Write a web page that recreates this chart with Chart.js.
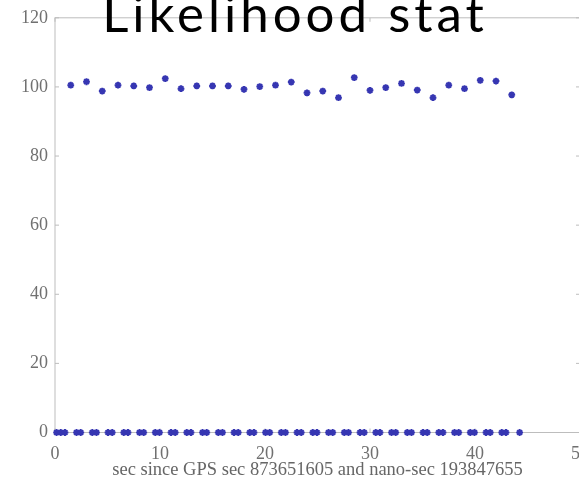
<!DOCTYPE html>
<html>
<head>
<meta charset="utf-8">
<script src="https://cdn.jsdelivr.net/npm/chart.js@4/dist/chart.umd.min.js"></script>
<style>
  html, body { margin: 0; padding: 0; overflow: hidden; background: #fff; }
  #wrap { position: relative; width: 579px; height: 487px; overflow: hidden; }
  #myChart { position: absolute; left: 0; top: 0; }
  #title {
    position: absolute; left: 0; width: 590px; top: -15px;
    text-align: center; font-family: Lato, sans-serif; font-size: 51px;
    letter-spacing: 4px; line-height: 56px; color: #000; white-space: nowrap;
  }
</style>
</head>
<body>
<div id="wrap">
  <canvas id="myChart" width="600" height="487"></canvas>
  <div id="title">Likelihood stat</div>
</div>
<script>
// Chart - Data

let statX = [1.5, 3, 4.5, 6, 7.5, 9, 10.5, 12, 13.5, 15, 16.5, 18, 19.5, 21, 22.5,
             24, 25.5, 27, 28.5, 30, 31.5, 33, 34.5, 36, 37.5, 39, 40.5, 42, 43.5];
let statY = [100.5, 101.5, 98.8, 100.5, 100.3, 99.8, 102.4, 99.5, 100.3, 100.3, 100.3, 99.3, 100.1, 100.5, 101.4,
             98.3, 98.8, 96.9, 102.7, 99.0, 99.8, 101.0, 99.1, 96.9, 100.5, 99.5, 101.9, 101.7, 97.7];

let zeroX = [0.15, 0.55, 0.95, 2.05, 2.45, 3.55, 3.95, 5.05, 5.45, 6.55, 6.95, 8.05, 8.45, 9.55, 9.95,
             11.05, 11.45, 12.55, 12.95, 14.05, 14.45, 15.55, 15.95, 17.05, 17.45, 18.55, 18.95, 20.05, 20.45,
             21.55, 21.95, 23.05, 23.45, 24.55, 24.95, 26.05, 26.45, 27.55, 27.95, 29.05, 29.45, 30.55, 30.95,
             32.05, 32.45, 33.55, 33.95, 35.05, 35.45, 36.55, 36.95, 38.05, 38.45, 39.55, 39.95, 41.05, 41.45,
             42.55, 42.95, 44.25];
let zeroY = zeroX.map(() => 0);

let xTicks = [0, 10, 20, 30, 40, 50];
let yTicks = [0, 20, 40, 60, 80, 100, 120];
let xTitle = "sec since GPS sec 873651605 and nano-sec 193847655";

var markColor = "#3636b2";
var frameColor = "#bdbdbd";

function pts(xs, ys) {
    return xs.map((x, i) => ({x: x, y: ys[i]}));
}

// box round the plot + small inward ticks, matlab style
const frame = {
    id: 'frame',
    beforeDatasetsDraw(chart) {
        const {ctx, chartArea: a, scales} = chart;
        ctx.save();
        ctx.strokeStyle = frameColor;
        ctx.lineWidth = 1;
        ctx.strokeRect(a.left, a.top, a.right - a.left, a.bottom - a.top);
        ctx.beginPath();
        yTicks.forEach(v => {
            const y = scales.y.getPixelForValue(v);
            ctx.moveTo(a.left, y); ctx.lineTo(a.left + 4, y);
            ctx.moveTo(a.right, y); ctx.lineTo(a.right - 4, y);
        });
        xTicks.forEach(v => {
            const x = scales.x.getPixelForValue(v);
            ctx.moveTo(x, a.bottom); ctx.lineTo(x, a.bottom - 4);
            ctx.moveTo(x, a.top); ctx.lineTo(x, a.top + 4);
        });
        ctx.stroke();
        ctx.restore();
    }
};

var myChart = new Chart("myChart", {
    type: "scatter",
    data: {
        datasets: [{
            data: pts(statX, statY),
            backgroundColor: markColor,
            borderColor: markColor,
            pointStyle: 'star',
            pointRadius: 3.4,
            borderWidth: 2,
            clip: false
        }, {
            data: pts(zeroX, zeroY),
            backgroundColor: markColor,
            borderColor: markColor,
            pointStyle: 'star',
            pointRadius: 3.4,
            borderWidth: 2,
            clip: false
        }]
    },
    options: {
        responsive: false,
        animation: false,
        events: [],
        layout: {padding: {top: 17.5, right: 20, left: 0, bottom: 0}},
        plugins: {
            legend: false,
            tooltip: {enabled: false}
        },
        scales: {
            x: {
                type: 'linear',
                min: 0, max: 50,
                afterFit: s => { s.height = 54.5; },
                afterBuildTicks: s => { s.ticks = xTicks.map(v => ({value: v})); },
                grid: {display: false, drawTicks: false},
                border: {display: false},
                ticks: {
                    padding: 11,
                    color: '#707070',
                    font: {family: '"Liberation Serif", serif', size: 18}
                },
                title: {
                    display: true,
                    text: xTitle,
                    color: '#666',
                    padding: {top: 0, bottom: 6},
                    font: {family: '"Liberation Serif", serif', size: 18.5}
                }
            },
            y: {
                min: 0, max: 120,
                afterFit: s => { s.width = 55; },
                afterBuildTicks: s => { s.ticks = yTicks.map(v => ({value: v})); },
                grid: {display: false, drawTicks: false},
                border: {display: false},
                ticks: {
                    padding: 7,
                    color: '#707070',
                    font: {family: '"Liberation Serif", serif', size: 18}
                }
            }
        }
    },
    plugins: [frame]
});
</script>
</body>
</html>
